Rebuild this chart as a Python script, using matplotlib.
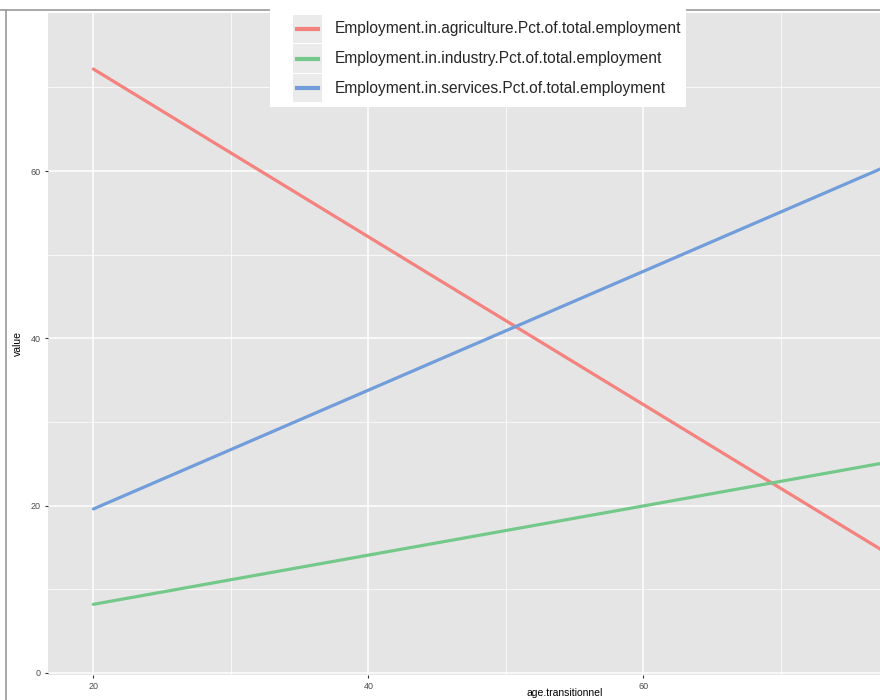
import matplotlib
matplotlib.use('Agg')
import matplotlib.pyplot as plt
from matplotlib.patches import Rectangle
from matplotlib.lines import Line2D

# data (linear fits)
age = [20, 88]
agriculture = [72.2, 4.0]
industry = [8.2, 28.2]
services = [19.6, 67.9]

series_names = ['Employment.in.agriculture.Pct.of.total.employment',
                'Employment.in.industry.Pct.of.total.employment',
                'Employment.in.services.Pct.of.total.employment']
series_colors = ['#F4827E', '#74C98A', '#719DDA']

plt.rcParams['font.family'] = ['Liberation Sans', 'DejaVu Sans']

W, H = 880, 700
fig = plt.figure(figsize=(8.8, 7), dpi=100)

# panel runs past the right edge of the cropped screenshot
left, right, top, bottom = 48, 1082, 13, 675
ax = fig.add_axes([left / W, 1 - bottom / H, (right - left) / W, (bottom - top) / H])
ax.set_facecolor('#E5E5E5')
for s in ax.spines.values():
    s.set_visible(False)

for vals, col in zip([agriculture, industry, services], series_colors):
    ax.plot(age, vals, color=col, lw=2.3, solid_capstyle='round', zorder=3)

ax.set_xlim(16.7, 91.9)
ax.set_ylim(-0.25, 78.9)
ax.set_xticks([20, 40, 60])
ax.set_yticks([0, 20, 40, 60])
ax.set_xticks([30, 50, 70, 80, 90], minor=True)
ax.set_yticks([10, 30, 50, 70], minor=True)
ax.grid(True, which='major', color='white', lw=1.1)
ax.grid(True, which='minor', color='white', lw=0.5)
ax.set_axisbelow(True)
ax.tick_params(which='major', length=2.5, color='#333333', width=0.8,
               labelsize=6.5, labelcolor='#4D4D4D', pad=2.5)
ax.tick_params(which='minor', length=0)
ax.set_ylabel('value', fontsize=7.5, labelpad=6)
# x title sits at the very bottom of the cropped screenshot
fig.text(565 / W, 1.5 / H, 'age.transitionnel', fontsize=7.5,
         ha='center', va='bottom')

# screenshot frame lines
fig.add_artist(Line2D([6 / W, 6 / W], [0, 1 - 10 / H], color='#999999', lw=1.2))
fig.add_artist(Line2D([0, 1], [1 - 10 / H, 1 - 10 / H], color='#999999', lw=1.2))

# legend box
fig.add_artist(Rectangle((270 / W, 1 - 107 / H), 416 / W, 107 / H,
                         facecolor='white', edgecolor='none', zorder=5))
for i, (name, col) in enumerate(zip(series_names, series_colors)):
    yc = 29 + i * 29.5
    fig.add_artist(Rectangle((293 / W, 1 - (yc + 14) / H), 29 / W, 28 / H,
                             facecolor='#EBEBEB', edgecolor='none', zorder=6))
    fig.add_artist(Line2D([297 / W, 318 / W], [1 - yc / H, 1 - yc / H],
                          color=col, lw=3, zorder=7))
    fig.text(335 / W, 1 - yc / H, name, fontsize=11.2, color='#262626',
             va='center', ha='left', zorder=7)

fig.savefig('out.png', dpi=100)
